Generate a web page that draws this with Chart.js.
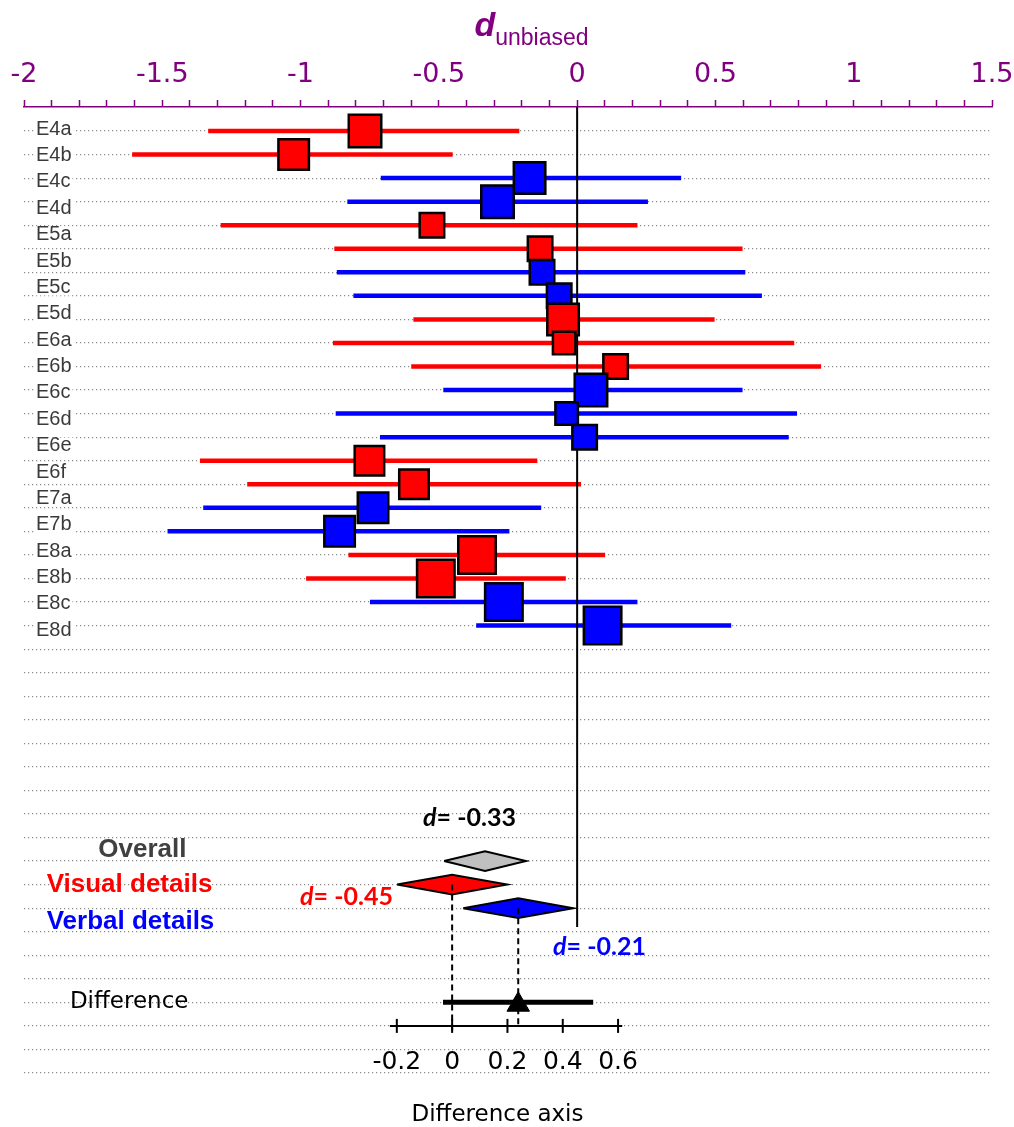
<!DOCTYPE html>
<html>
<head>
<meta charset="utf-8">
<script src="https://cdn.jsdelivr.net/npm/chart.js@4.4.1/dist/chart.umd.min.js"></script>
<style>
  html, body { margin: 0; padding: 0; background: #fff; }
  #wrap { width: 1014px; height: 1127px; }
</style>
</head>
<body>
<div id="wrap"><canvas id="forest_chart"></canvas></div>
<script>
"use strict";

// ---- data ----
const studyLabels = ["E4a", "E4b", "E4c", "E4d", "E5a", "E5b", "E5c", "E5d", "E6a", "E6b",
  "E6c", "E6d", "E6e", "E6f", "E7a", "E7b", "E8a", "E8b", "E8c", "E8d"];

// one entry per plotted effect (22 rows)
const modality = ["visual", "visual", "verbal", "verbal", "visual", "visual", "verbal", "verbal",
  "visual", "visual", "visual", "verbal", "verbal", "verbal", "visual", "visual", "verbal", "verbal",
  "visual", "visual", "verbal", "verbal"];
const effect = [-0.767, -1.025, -0.172, -0.288, -0.525, -0.134, -0.127, -0.065, -0.051, -0.047,
  0.139, 0.05, -0.038, 0.027, -0.751, -0.59, -0.738, -0.859, -0.362, -0.511, -0.265, 0.092];
const ciLow = [-1.334, -1.609, -0.71, -0.831, -1.289, -0.878, -0.869, -0.809, -0.592, -0.883,
  -0.6, -0.484, -0.873, -0.713, -1.364, -1.193, -1.352, -1.481, -0.827, -0.98, -0.749, -0.365];
const ciHigh = [-0.209, -0.45, 0.376, 0.256, 0.218, 0.598, 0.608, 0.668, 0.497, 0.785,
  0.882, 0.598, 0.795, 0.765, -0.144, 0.014, -0.13, -0.245, 0.101, -0.041, 0.218, 0.557];
const weights = [5.25, 4.67, 4.96, 5.25, 3.13, 3.13, 3.13, 3.13, 4.96, 2.68,
  3.13, 5.25, 2.68, 3.13, 4.39, 4.39, 4.67, 4.67, 6.86, 6.86, 6.86, 6.86];

const summaryNames = ["Overall", "Visual details", "Verbal details"];
const summaryEst = [-0.333, -0.452, -0.213];
const summaryLow = [-0.481, -0.651, -0.412];
const summaryHigh = [-0.185, -0.253, -0.014];
const summaryText = ["d= -0.33", "d= -0.45", "d= -0.21"];

const diffEstimate = [0.239];
const diffCI = [-0.033, 0.51];

const axisTicks = [-2, -1.5, -1, -0.5, 0, 0.5, 1, 1.5];
const diffTicks = [-0.2, 0, 0.2, 0.4, 0.6];
const diffAxisRange = [-0.225, 0.615];

// ---- layout / style ----
const PURPLE = "#800080";
const RED = "#ff0000";
const BLUE = "#0000ff";
const GREY_FILL = "#c0c0c0";
const colorOf = { visual: RED, verbal: BLUE };

const X_MIN = -2;
const X_MAX = 1.5;
const FIRST_ROW = -1.02;
const LAST_ROW = 40;
const SUMMARY_ROWS = [31, 32, 33];
const DIFF_ROW = 37;
const DIFF_AXIS_ROW = 38;
const ZERO_LINE_END = 33.8;
const DIAMOND_HALF = 0.42;

// labels are spread a little wider than the effect rows in the original
const labelRow = (i) => -0.08 + i * 1.12;
const squareRadius = (w) => (15.27 * Math.sqrt(w) - 2.5) / (2 * Math.SQRT1_2);

const datasets = [];

effect.forEach((e, i) => {
  datasets.push({
    data: [{ x: ciLow[i], y: i }, { x: ciHigh[i], y: i }],
    showLine: true,
    borderColor: colorOf[modality[i]],
    borderWidth: 4.5,
    pointRadius: 0,
    order: 5,
  });
});

datasets.push({
  data: [{ x: 0, y: FIRST_ROW }, { x: 0, y: ZERO_LINE_END }],
  showLine: true,
  borderColor: "#000",
  borderWidth: 2,
  pointRadius: 0,
  order: 4,
});

datasets.push({
  data: effect.map((e, i) => ({ x: e, y: i })),
  pointStyle: "rect",
  pointRadius: weights.map(squareRadius),
  backgroundColor: modality.map((m) => colorOf[m]),
  borderColor: "#000",
  borderWidth: 2.5,
  order: 3,
});

const summaryFill = [GREY_FILL, RED, BLUE];
summaryEst.forEach((est, i) => {
  const r = SUMMARY_ROWS[i];
  datasets.push({
    data: [
      { x: summaryLow[i], y: r },
      { x: est, y: r - DIAMOND_HALF },
      { x: summaryHigh[i], y: r },
      { x: est, y: r + DIAMOND_HALF },
      { x: summaryLow[i], y: r },
    ],
    showLine: true,
    fill: "shape",
    backgroundColor: summaryFill[i],
    borderColor: "#000",
    borderWidth: 2,
    pointRadius: 0,
    tension: 0,
    order: 2,
  });
});

// dashed drop lines from the two subgroup diamonds to the difference axis
[[summaryEst[1], SUMMARY_ROWS[1], DIFF_AXIS_ROW + 0.25], [summaryEst[2], SUMMARY_ROWS[2], DIFF_AXIS_ROW]]
  .forEach(([v, from, to]) => {
    datasets.push({
      data: [{ x: v, y: from }, { x: v, y: to }],
      showLine: true,
      borderColor: "#000",
      borderWidth: 2,
      borderDash: [6, 4],
      pointRadius: 0,
      order: 1,
    });
  });

// difference axis line and tick marks
datasets.push({
  xAxisID: "xd",
  data: diffAxisRange.map((v) => ({ x: v, y: DIFF_AXIS_ROW })),
  showLine: true,
  borderColor: "#000",
  borderWidth: 2,
  pointRadius: 0,
  order: 1,
});
datasets.push({
  xAxisID: "xd",
  data: diffTicks.map((v) => ({ x: v, y: DIFF_AXIS_ROW })),
  pointStyle: "line",
  rotation: 90,
  pointRadius: 7,
  borderColor: "#000",
  borderWidth: 2,
  order: 1,
});

// difference estimate
datasets.push({
  xAxisID: "xd",
  data: diffCI.map((v) => ({ x: v, y: DIFF_ROW })),
  showLine: true,
  borderColor: "#000",
  borderWidth: 5,
  pointRadius: 0,
  order: 1,
});
datasets.push({
  xAxisID: "xd",
  data: diffEstimate.map((v) => ({ x: v, y: DIFF_ROW + 0.1 })),
  pointStyle: "triangle",
  pointRadius: 13,
  backgroundColor: "#000",
  borderColor: "#000",
  borderWidth: 1,
  order: 0,
});

function drawEffectLabel(ctx, text, x, y, color, align) {
  const italicFont = "italic bold 25px Lato";
  const boldFont = "bold 25px Lato";
  const head = text.slice(0, 1);
  const rest = text.slice(1);
  ctx.font = italicFont;
  const w1 = ctx.measureText(head).width;
  ctx.font = boldFont;
  const w2 = ctx.measureText(rest).width;
  const left = align === "right" ? x - w1 - w2 : x;
  ctx.fillStyle = color;
  ctx.textAlign = "left";
  ctx.textBaseline = "middle";
  ctx.font = italicFont;
  ctx.fillText(head, left, y);
  ctx.font = boldFont;
  ctx.fillText(rest, left + w1, y);
}

const annotationPlugin = {
  id: "annotations",
  afterDatasetsDraw(chart) {
    const { ctx, chartArea, scales } = chart;
    const x = scales.x;
    const y = scales.y;
    ctx.save();

    // axis title: d with "unbiased" subscript
    ctx.fillStyle = PURPLE;
    ctx.textBaseline = "alphabetic";
    ctx.textAlign = "left";
    ctx.font = "italic bold 34px 'Liberation Sans'";
    const dW = ctx.measureText("d").width;
    ctx.font = "23px 'Liberation Sans'";
    const subW = ctx.measureText("unbiased").width;
    const titleLeft = x.getPixelForValue(-0.165) - (dW + subW) / 2;
    ctx.font = "italic bold 34px 'Liberation Sans'";
    ctx.fillText("d", titleLeft, 36);
    ctx.font = "23px 'Liberation Sans'";
    ctx.fillText("unbiased", titleLeft + dW, 45);

    // study labels with a white backdrop over the dotted lines
    ctx.font = "20px 'Liberation Sans'";
    ctx.textBaseline = "middle";
    studyLabels.forEach((label, i) => {
      const ly = y.getPixelForValue(labelRow(i));
      const lx = chartArea.left + 12;
      const w = ctx.measureText(label).width;
      ctx.fillStyle = "#fff";
      ctx.fillRect(lx - 2, ly - 8, w + 4, 16);
      ctx.fillStyle = "#3a3a3a";
      ctx.fillText(label, lx, ly);
    });

    // subgroup names
    ctx.font = "bold 26px 'Liberation Sans'";
    ctx.textAlign = "center";
    ctx.fillStyle = "#404040";
    ctx.fillText(summaryNames[0], x.getPixelForValue(-1.572), y.getPixelForValue(30.51));
    ctx.textAlign = "left";
    ctx.fillStyle = RED;
    ctx.fillText(summaryNames[1], x.getPixelForValue(-1.918), y.getPixelForValue(32.02));
    ctx.fillStyle = BLUE;
    ctx.fillText(summaryNames[2], x.getPixelForValue(-1.918), y.getPixelForValue(33.59));

    // effect size labels
    drawEffectLabel(ctx, summaryText[0], x.getPixelForValue(-0.557), y.getPixelForValue(29.19), "#000", "left");
    drawEffectLabel(ctx, summaryText[1], x.getPixelForValue(-0.666), y.getPixelForValue(32.53), RED, "right");
    drawEffectLabel(ctx, summaryText[2], x.getPixelForValue(-0.087), y.getPixelForValue(34.63), BLUE, "left");

    // difference row and axis title
    ctx.font = "23px 'DejaVu Sans'";
    ctx.fillStyle = "#000";
    ctx.textAlign = "left";
    ctx.fillText("Difference", x.getPixelForValue(-1.834), y.getPixelForValue(DIFF_ROW));
    ctx.textAlign = "center";
    ctx.fillText("Difference axis", x.getPixelForValue(-0.288), y.getPixelForValue(41.78));

    ctx.restore();
  },
};

const forestChartConfig = {
  type: "scatter",
  data: { datasets },
  options: {
    responsive: true,
    maintainAspectRatio: false,
    animation: false,
    events: [],
    layout: { autoPadding: false, padding: { top: 57, left: 24, right: 22, bottom: 54 } },
    plugins: { legend: { display: false }, tooltip: { enabled: false } },
    scales: {
      x: {
        type: "linear",
        position: "top",
        min: X_MIN,
        max: X_MAX,
        afterBuildTicks(scale) {
          const ticks = [];
          for (let k = 0; k <= Math.round((X_MAX - X_MIN) * 10); k++) {
            ticks.push({ value: Math.round((X_MIN + k * 0.1) * 10) / 10 });
          }
          scale.ticks = ticks;
        },
        afterFit(scale) {
          scale.height = 50;
          scale.paddingLeft = 0;
          scale.paddingRight = 0;
        },
        ticks: {
          autoSkip: false,
          maxRotation: 0,
          padding: 9,
          color: PURPLE,
          font: { family: "'DejaVu Sans'", size: 27 },
          callback: (value) =>
            axisTicks.some((t) => Math.abs(t - value) < 1e-6) ? String(Math.round(value * 10) / 10) : "",
        },
        grid: {
          drawOnChartArea: false,
          drawTicks: true,
          tickLength: 7,
          tickColor: PURPLE,
          tickWidth: 1.5,
        },
        border: { display: true, color: PURPLE, width: 1.5 },
      },
      xd: {
        type: "linear",
        position: { y: DIFF_AXIS_ROW },
        min: X_MIN - summaryEst[1],
        max: X_MAX - summaryEst[1],
        afterBuildTicks(scale) {
          scale.ticks = diffTicks.map((v) => ({ value: v }));
        },
        afterFit(scale) {
          scale.paddingLeft = 0;
          scale.paddingRight = 0;
        },
        ticks: {
          autoSkip: false,
          maxRotation: 0,
          padding: 22,
          color: "#000",
          font: { family: "'DejaVu Sans'", size: 25 },
          callback: (value) => String(value),
        },
        grid: { display: false, drawTicks: false },
        border: { display: false },
      },
      y: {
        type: "linear",
        reverse: true,
        min: FIRST_ROW,
        max: LAST_ROW,
        afterBuildTicks(scale) {
          const ticks = [];
          for (let r = 0; r <= LAST_ROW; r++) ticks.push({ value: r });
          scale.ticks = ticks;
        },
        afterFit(scale) {
          scale.width = 0;
        },
        ticks: { display: false },
        grid: { color: "#8c8c8c", lineWidth: 1.2, drawTicks: false },
        border: { display: false, dash: [1.2, 2.8] },
      },
    },
  },
  plugins: [annotationPlugin],
};

const forestChartContext = document.getElementById("forest_chart").getContext("2d");
const forestChart = new Chart(forestChartContext, forestChartConfig);
</script>
</body>
</html>
